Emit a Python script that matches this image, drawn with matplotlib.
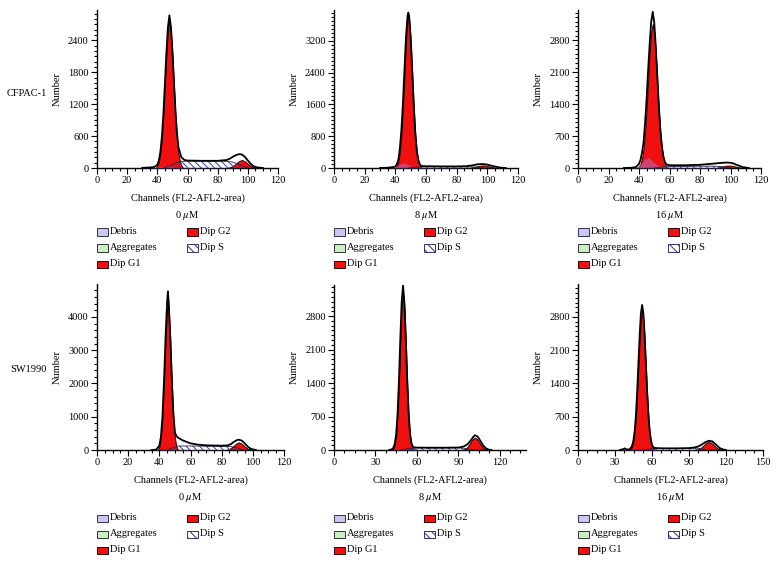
import matplotlib
matplotlib.use('Agg')
import matplotlib.pyplot as plt
from matplotlib.ticker import MultipleLocator, AutoMinorLocator
from matplotlib.patches import Rectangle

# ---- data (channel, count) ----
# CFPAC-1, 0 uM
cf0_g1_ch = [39, 40, 41, 42, 43, 44, 45, 46, 47, 48, 49, 50, 51, 52, 53, 54, 55, 56, 57]
cf0_g1_n = [0, 47, 121, 278, 558, 990, 1548, 2131, 2580, 2750, 2580, 2131, 1548, 990, 558, 278, 121, 47, 0]
cf0_g2_ch = [86, 88, 90, 92, 94, 96, 98, 100, 102, 104, 106]
cf0_g2_n = [3, 10, 35, 78, 128, 150, 128, 78, 35, 10, 3]
cf0_s_ch = [44, 48, 52, 56, 60, 70, 80, 86, 90, 95, 100]
cf0_s_n = [0, 40, 90, 125, 130, 130, 130, 125, 110, 60, 0]
cf0_deb_ch = [35, 40, 44, 48, 52, 60, 80, 100, 110]
cf0_deb_n = [0, 20, 30, 25, 15, 10, 5, 3, 0]
cf0_all_ch = [30, 35, 38, 40, 41, 42, 43, 44, 45, 46, 47, 48, 49, 50, 51, 52, 53, 54, 55, 56,
              58, 60, 70, 80, 86, 88, 90, 92, 94, 96, 98, 100, 102, 104, 106, 110]
cf0_all_n = [3, 10, 20, 60, 140, 300, 580, 1010, 1570, 2160, 2640, 2870, 2650, 2200, 1620, 1080, 660, 390, 290, 200,
             150, 140, 135, 135, 150, 175, 210, 240, 260, 255, 210, 140, 75, 30, 12, 0]

# CFPAC-1, 8 uM
cf8_g1_ch = [40, 41, 42, 43, 44, 45, 46, 47, 48, 48.5, 49, 50, 51, 52, 53, 54, 55, 56, 57]
cf8_g1_n = [0, 59, 167, 406, 850, 1535, 2394, 3218, 3731, 3800, 3731, 3218, 2394, 1535, 850, 406, 167, 59, 0]
cf8_g2_ch = [89, 91, 93, 95, 97, 99, 101, 103, 105]
cf8_g2_n = [9, 21, 40, 57, 65, 57, 40, 21, 9]
cf8_s_ch = [48, 55, 60, 70, 80, 88, 94, 98]
cf8_s_n = [0, 25, 30, 30, 30, 30, 20, 0]
cf8_deb_ch = [35, 38, 41, 43, 45, 47, 49, 52, 55, 60, 70, 80, 90, 100, 110]
cf8_deb_n = [0, 10, 40, 100, 130, 110, 70, 35, 20, 15, 10, 8, 5, 3, 0]
cf8_all_ch = [30, 35, 38, 40, 41, 42, 43, 44, 45, 46, 47, 48, 48.5, 49, 50, 51, 52, 53, 54, 55, 56,
              57, 58, 60, 70, 80, 86, 90, 94, 97, 100, 104, 108, 112]
cf8_all_n = [0, 8, 20, 35, 100, 210, 510, 980, 1670, 2510, 3330, 3840, 3910, 3820, 3280, 2440, 1575, 880, 430, 200, 90,
             55, 45, 45, 40, 40, 45, 65, 95, 100, 85, 45, 12, 0]

# CFPAC-1, 16 uM
cf16_g1_ch = [39, 40, 41, 42, 43, 44, 45, 46, 47, 48, 49, 50, 51, 52, 53, 54, 55, 56, 57, 58, 59]
cf16_g1_n = [0, 35, 89, 208, 426, 785, 1295, 1911, 2523, 2980, 3150, 2980, 2523, 1911, 1295, 785, 426, 208, 89, 35, 0]
cf16_g2_ch = [91, 93, 95, 97, 99, 101, 103, 105, 107]
cf16_g2_n = [7, 18, 33, 49, 55, 49, 33, 18, 7]
cf16_s_ch = [50, 56, 60, 70, 80, 90, 96, 100]
cf16_s_n = [0, 25, 30, 35, 40, 40, 25, 0]
cf16_deb_ch = [34, 38, 40, 42, 44, 46, 48, 50, 53, 56, 60, 70, 80, 90, 100, 110]
cf16_deb_n = [0, 15, 50, 120, 200, 230, 190, 110, 50, 30, 25, 20, 15, 10, 5, 0]
cf16_all_ch = [30, 35, 38, 40, 41, 42, 43, 44, 45, 46, 47, 48, 49, 50, 51, 52, 53, 54, 55, 56, 57,
               58, 60, 70, 80, 85, 90, 95, 98, 101, 104, 108, 112]
cf16_all_n = [0, 5, 20, 90, 180, 340, 560, 1000, 1510, 2150, 2720, 3200, 3420, 3180, 2660, 2000, 1360, 830, 470, 250, 130,
              80, 60, 60, 70, 85, 100, 115, 120, 110, 70, 20, 0]

# SW1990, 0 uM
sw0_g1_ch = [39, 40, 41, 42, 43, 44, 45, 45.5, 46, 47, 48, 49, 50, 51, 52]
sw0_g1_n = [0, 100, 350, 952, 2015, 3322, 4265, 4400, 4265, 3322, 2015, 952, 350, 100, 0]
sw0_g2_ch = [83, 85, 87, 89, 91, 93, 95, 97, 99]
sw0_g2_n = [6, 31, 95, 184, 230, 184, 95, 31, 6]
sw0_s_ch = [45, 48, 52, 60, 70, 80, 86, 90, 94]
sw0_s_n = [0, 60, 120, 120, 115, 110, 100, 60, 0]
sw0_deb_ch = [35, 40, 45, 50, 60, 80, 100, 110]
sw0_deb_n = [0, 15, 25, 20, 12, 8, 4, 0]
sw0_all_ch = [35, 38, 40, 41, 42, 43, 44, 45, 45.5, 46, 47, 48, 49, 50, 51, 52, 55, 60, 65, 70,
              80, 84, 86, 88, 90, 91, 93, 95, 97, 99, 102]
sw0_all_n = [0, 12, 130, 390, 1000, 2080, 3400, 4450, 4770, 4450, 3420, 2120, 1100, 520, 420, 370, 290, 200, 160, 140,
             130, 140, 180, 250, 300, 310, 280, 190, 90, 30, 0]

# SW1990, 8 uM
sw8_g1_ch = [42, 43, 44, 45, 46, 47, 48, 49, 50, 51, 52, 53, 54, 55, 56, 57, 58]
sw8_g1_n = [0, 32, 109, 309, 723, 1400, 2247, 2985, 3280, 2985, 2247, 1400, 723, 309, 109, 32, 0]
sw8_g2_ch = [94, 96, 98, 100, 102, 104, 106, 108, 110]
sw8_g2_n = [11, 45, 119, 214, 260, 214, 119, 45, 11]
sw8_s_ch = [48, 54, 58, 70, 80, 90, 95, 100]
sw8_s_n = [0, 30, 45, 45, 45, 45, 35, 0]
sw8_deb_ch = [40, 44, 48, 52, 60, 80, 100, 115]
sw8_deb_n = [0, 15, 20, 15, 10, 6, 3, 0]
sw8_all_ch = [40, 42, 43, 44, 45, 46, 47, 48, 49, 50, 51, 52, 53, 54, 55, 56, 57, 58, 60, 70,
              80, 90, 93, 95, 97, 99, 101, 102, 104, 106, 108, 110, 112, 114]
sw8_all_n = [0, 15, 50, 130, 330, 750, 1440, 2310, 3100, 3440, 3060, 2300, 1450, 770, 350, 150, 75, 55, 50, 48,
             48, 52, 65, 90, 130, 200, 280, 310, 280, 190, 95, 35, 8, 0]

# SW1990, 16 uM
sw16_g1_ch = [42, 43, 44, 45, 46, 47, 48, 49, 50, 51, 52, 53, 54, 55, 56, 57, 58, 59, 60, 61, 62]
sw16_g1_n = [0, 32, 82, 193, 394, 727, 1200, 1772, 2339, 2762, 2920, 2762, 2339, 1772, 1200, 727, 394, 193, 82, 32, 0]
sw16_g2_ch = [96, 98, 100, 102, 104, 106, 108, 110, 112, 114, 116]
sw16_g2_n = [7, 23, 55, 103, 150, 170, 150, 103, 55, 23, 7]
sw16_s_ch = [52, 58, 62, 70, 80, 90, 96, 100, 104]
sw16_s_n = [0, 20, 30, 30, 30, 35, 40, 30, 0]
sw16_deb_ch = [35, 37, 38, 39, 41, 45, 50, 60, 80, 100, 120]
sw16_deb_n = [0, 15, 30, 15, 8, 12, 15, 10, 6, 3, 0]
sw16_all_ch = [34, 37, 38, 39, 41, 42, 43, 44, 45, 46, 47, 48, 49, 50, 51, 52, 53, 54, 55, 56, 57, 58, 59, 60,
               61, 62, 65, 70, 80, 90, 95, 98, 100, 103, 106, 109, 112, 115, 118, 120]
sw16_all_n = [0, 20, 35, 15, 10, 20, 50, 100, 210, 410, 750, 1240, 1830, 2420, 2870, 3050, 2870, 2420, 1830, 1250, 770, 430, 225, 110,
              60, 45, 38, 35, 35, 40, 55, 80, 110, 160, 195, 180, 110, 40, 8, 0]

doses = ['0 $\\mu$M', '8 $\\mu$M', '16 $\\mu$M']
cell_lines = ['CFPAC-1', 'SW1990']
legend_labels = ['Debris', 'Dip G2', 'Aggregates', 'Dip S', 'Dip G1']

plt.rcParams['font.family'] = ['Liberation Serif', 'DejaVu Serif']
plt.rcParams['mathtext.fontset'] = 'stix'
plt.rcParams['hatch.linewidth'] = 0.7

RED = '#f01010'
HATCH = '\\\\\\\\\\'
W, H = 777, 565
fig = plt.figure(figsize=(W / 100, H / 100), dpi=100)


def fx(x):
    return x / W


def fy(y):
    return 1 - y / H


panels = [
    # data, axis left/right px, top/base px, xlim, xstep, ylim, ystep, yminor
    ((cf0_deb_ch, cf0_deb_n, cf0_s_ch, cf0_s_n, cf0_g1_ch, cf0_g1_n, cf0_g2_ch, cf0_g2_n, cf0_all_ch, cf0_all_n),
     97, 278, 10, 168, 120, 20, 2970, 600, 6),
    ((cf8_deb_ch, cf8_deb_n, cf8_s_ch, cf8_s_n, cf8_g1_ch, cf8_g1_n, cf8_g2_ch, cf8_g2_n, cf8_all_ch, cf8_all_n),
     334, 518, 10, 168, 120, 20, 3975, 800, 8),
    ((cf16_deb_ch, cf16_deb_n, cf16_s_ch, cf16_s_n, cf16_g1_ch, cf16_g1_n, cf16_g2_ch, cf16_g2_n, cf16_all_ch, cf16_all_n),
     578, 761, 10, 168, 120, 20, 3460, 700, 7),
    ((sw0_deb_ch, sw0_deb_n, sw0_s_ch, sw0_s_n, sw0_g1_ch, sw0_g1_n, sw0_g2_ch, sw0_g2_n, sw0_all_ch, sw0_all_n),
     97, 284, 284, 450, 120, 20, 4990, 1000, 5),
    ((sw8_deb_ch, sw8_deb_n, sw8_s_ch, sw8_s_n, sw8_g1_ch, sw8_g1_n, sw8_g2_ch, sw8_g2_n, sw8_all_ch, sw8_all_n),
     334, 526, 285, 450, 139, 30, 3450, 700, 7),
    ((sw16_deb_ch, sw16_deb_n, sw16_s_ch, sw16_s_n, sw16_g1_ch, sw16_g1_n, sw16_g2_ch, sw16_g2_n, sw16_all_ch, sw16_all_n),
     578, 763, 284, 450, 150, 30, 3490, 700, 7),
]

FS = 7.5
for i, (d, l, r, top, base, xmax, xstep, ymax, ystep, ymin_n) in enumerate(panels):
    deb_x, deb_y, s_x, s_y, g1_x, g1_y, g2_x, g2_y, all_x, all_y = d
    ax = fig.add_axes([fx(l), fy(base), fx(r - l), (base - top) / H])

    # red G1 / G2 first, the others are blended on top of them
    ax.fill_between(g1_x, g1_y, color=RED, ec='#300000', lw=0.7, zorder=2)
    ax.fill_between(g2_x, g2_y, color=RED, ec='#300000', lw=0.7, zorder=2)
    ax.fill_between(deb_x, deb_y, color='#a080f0', alpha=0.45, lw=0, zorder=3)
    ax.fill_between(s_x, s_y, facecolor='none', edgecolor='#3040a8', hatch=HATCH, lw=0, zorder=3)
    ax.plot(s_x, s_y, color='#202040', lw=0.6, zorder=3)
    ax.plot(all_x, all_y, color='black', lw=1.3, zorder=4)

    ax.set_xlim(0, xmax)
    ax.set_ylim(0, ymax)
    ax.xaxis.set_major_locator(MultipleLocator(xstep))
    ax.xaxis.set_minor_locator(AutoMinorLocator(4))
    ax.yaxis.set_major_locator(MultipleLocator(ystep))
    ax.yaxis.set_minor_locator(AutoMinorLocator(ymin_n))
    ax.tick_params(which='both', direction='out', labelsize=FS, width=0.8, pad=2)
    ax.tick_params(which='major', length=4)
    ax.tick_params(which='minor', length=2.5)
    for sp in ['top', 'right']:
        ax.spines[sp].set_visible(False)
    for sp in ['left', 'bottom']:
        ax.spines[sp].set_linewidth(1.0)

    cx = (l + r) / 2
    fig.text(fx(l - 40), fy((top + base) / 2), 'Number', rotation=90, ha='center', va='center', fontsize=FS)
    fig.text(fx(cx), fy(base + 30), 'Channels (FL2-AFL2-area)', ha='center', va='center', fontsize=FS)
    fig.text(fx(cx), fy(base + 48), doses[i % 3], ha='center', va='center', fontsize=FS)

    # legend drawn by hand under each panel
    rows = [base + 64, base + 80, base + 96] if i < 3 else [base + 68, base + 84, base + 100]
    slots = [(l, rows[0]), (l + 90, rows[0]), (l, rows[1]), (l + 90, rows[1]), (l, rows[2])]
    styles = [dict(fc='#c8c8f0', ec='#303050'), dict(fc=RED, ec='#300000'),
              dict(fc='#c8f0c0', ec='#303030'), dict(fc='white', ec='#303080', hatch='\\\\\\\\'),
              dict(fc=RED, ec='#300000')]
    for (px, py), lab, st in zip(slots, legend_labels, styles):
        fig.add_artist(Rectangle((fx(px), fy(py + 3.5)), 11 / W, 7 / H, transform=fig.transFigure,
                                 lw=0.7, **st))
        fig.text(fx(px + 13), fy(py), lab, ha='left', va='center', fontsize=FS)

fig.text(fx(47), fy(93), cell_lines[0], ha='right', va='center', fontsize=FS)
fig.text(fx(47), fy(370), cell_lines[1], ha='right', va='center', fontsize=FS)

fig.savefig('out.png', dpi=100)
